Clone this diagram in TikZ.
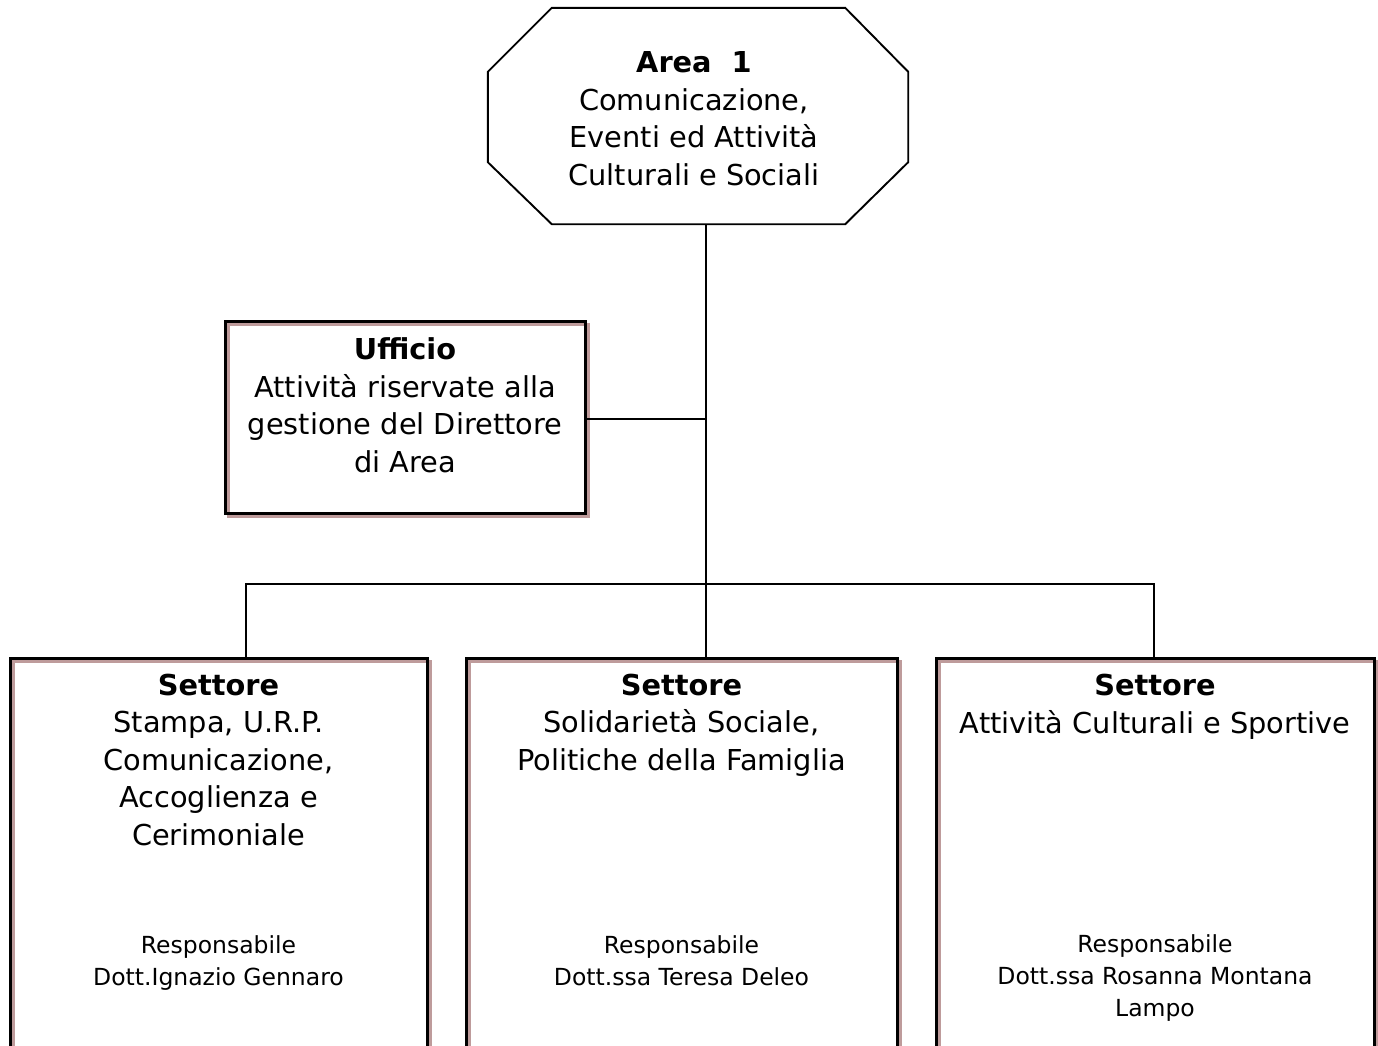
\documentclass[tikz,border=0pt]{standalone}
\usepackage{fontspec}
\setmainfont{DejaVu Sans}
\usetikzlibrary{calc}
\definecolor{rosy}{RGB}{190,155,155}
\tikzset{
  unit box/.style={rectangle, inner sep=0pt,
    preaction={fill=white},
    preaction={draw=rosy, line width=3pt, transform canvas={shift={(3.3pt,-3.3pt)}}},
    draw=black, line width=3pt},
  link/.style={draw=black, line width=1.6pt},
  bigtext/.style={align=center, anchor=base, inner sep=0pt,
    font=\fontsize{28.8}{37.5}\selectfont},
  smalltext/.style={align=center, anchor=base, inner sep=0pt,
    font=\fontsize{23.5}{32}\selectfont},
}
\begin{document}
\begin{tikzpicture}[x=1pt,y=-1pt]
\clip (0,0) rectangle (1378,1045);
\fill[white] (0,0) rectangle (1378,1045);

% top area: octagonal frame around an invisible box
\node[minimum width=420pt, minimum height=216pt, inner sep=0pt] (area) at (698,116) {};
\draw[line width=1.9pt, line join=miter]
  ($(area.north west)+(64,0)$) -- ($(area.north east)+(-63,0)$)
  -- ($(area.north east)+(0,64)$) -- ($(area.south east)+(0,-62)$)
  -- ($(area.south east)+(-63,0)$) -- ($(area.south west)+(64,0)$)
  -- ($(area.south west)+(0,-62)$) -- ($(area.north west)+(0,64)$) -- cycle;
% multi-line texts are anchored at the baseline of their last line
\node[bigtext] (areatext) at (694,185)
  {\textbf{Area\ \ 1}\\Comunicazione,\\Eventi ed Attività\\Culturali e Sociali};

% junctions on the main vertical line
\coordinate (j1) at (706,419);
\coordinate (j2) at (706,584);

% staff office
\node[unit box, minimum width=360pt, minimum height=192pt] (uff) at (405,417) {};
\node[bigtext] (ufftext) at (405,472)
  {\textbf{Ufficio}\\Attività riservate alla\\gestione del Direttore\\di Area};

% sectors
\node[unit box, minimum width=417pt, minimum height=420pt, anchor=north] (s1) at (218.5,657) {};
\node[unit box, minimum width=431pt, minimum height=420pt, anchor=north] (s2) at (681.5,657) {};
\node[unit box, minimum width=438pt, minimum height=420pt, anchor=north] (s3) at (1155,657) {};

\node[bigtext] (s1text) at (218.5,845)
  {\textbf{Settore}\\Stampa, U.R.P.\\Comunicazione,\\Accoglienza e\\Cerimoniale};
\node[smalltext] (s1resp) at (218.5,985) {Responsabile\\Dott.Ignazio Gennaro};

\node[bigtext] (s2text) at (681.5,770)
  {\textbf{Settore}\\Solidarietà Sociale,\\Politiche della Famiglia};
\node[smalltext] (s2resp) at (681.5,985) {Responsabile\\Dott.ssa Teresa Deleo};

\node[bigtext] (s3text) at (1155,733)
  {\textbf{Settore}\\Attività Culturali e Sportive};
\node[smalltext] (s3resp) at (1155,1016) {Responsabile\\Dott.ssa Rosanna Montana\\Lampo};

% connectors
\draw[link] ($(area.south)+(8,0)$) -- (j2);
\draw[link] (uff.east |- j1) -- (j1);
\draw[link] ($(s1.north)+(27.5,0)$) |- (j2) -| ($(s3.north)+(-1,0)$);
\draw[link] (j2) -- (j2 |- s2.north);
\end{tikzpicture}
\end{document}
